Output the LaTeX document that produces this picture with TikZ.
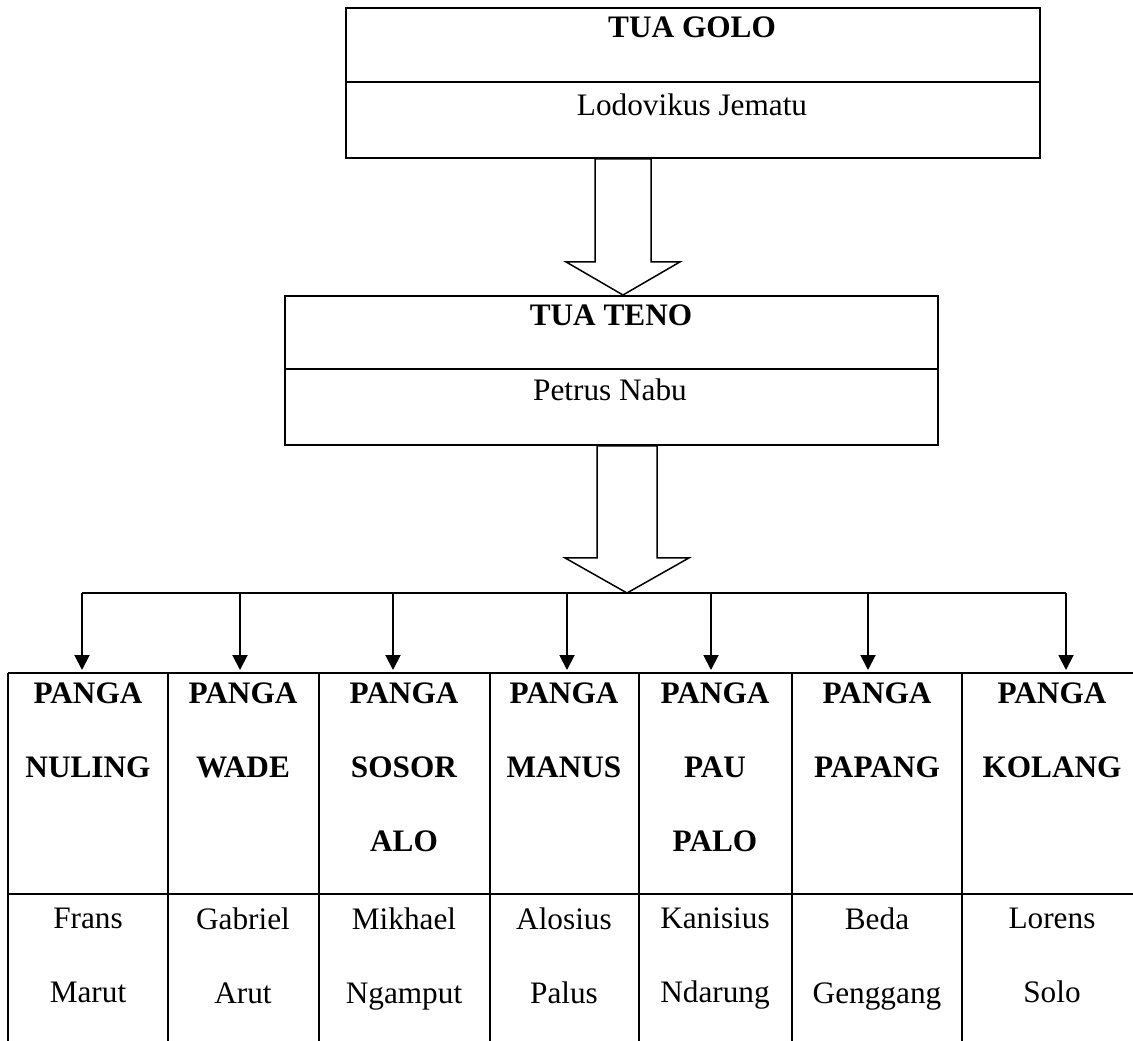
\documentclass[tikz,border=0pt]{standalone}
\usepackage{fontspec}
\setmainfont{Liberation Serif}
\usetikzlibrary{arrows.meta,calc,positioning}
\tikzset{
  >={Triangle[width=0.3cm,length=0.3cm]},
  every picture/.style={line width=1.1pt},
  box/.style={draw, rectangle, inner sep=0pt, anchor=north west},
  txt/.style={inner sep=0pt, align=center, font=\fontsize{17.8}{42}\selectfont},
  head/.style={txt, font=\fontsize{17.8}{42}\selectfont\bfseries},
  hollow/.style={line width=0.85pt, line join=miter, fill=white},
  feed/.style={->, line width=1.1pt}
}
\begin{document}
\begin{tikzpicture}[x=0.02cm, y=-0.02cm]
  \useasboundingbox (0,0) rectangle (1133,1041);

  \node[box, minimum width=13.88cm, minimum height=3cm] (goloBox) at (345,7) {};
  \draw (goloBox.west |- 0,82) -- (goloBox.east |- 0,82);
  \node[head, anchor=base] (golo) at (692,37) {TUA GOLO};
  \node[txt, anchor=base] (lodovikus) at (692,115) {Lodovikus Jematu};

  \node[box, minimum width=13.06cm, minimum height=2.98cm] (tenoBox) at (284,295) {};
  \draw (tenoBox.west |- 0,369) -- (tenoBox.east |- 0,369);
  \node[head, anchor=base] (teno) at (611,325) {TUA TENO};
  \node[txt, anchor=base] (petrus) at (610,400) {Petrus Nabu};

  \coordinate (a1) at (goloBox.south -| 623,0);
  \coordinate (a1tip) at (tenoBox.north -| a1);
  \draw[hollow] ($(a1)+(-28,0)$) -- ($(a1)+(28,0)$) -- ($(a1)+(28,103)$)
    -- ($(a1)+(57,103)$) -- (a1tip) -- ($(a1)+(-57,103)$) -- ($(a1)+(-28,103)$) -- cycle;

  \coordinate (a2) at (tenoBox.south -| 627,0);
  \coordinate (bus) at (627,593);
  \draw[hollow] ($(a2)+(-30,0)$) -- ($(a2)+(30,0)$) -- ($(a2)+(30,112)$)
    -- ($(a2)+(62,112)$) -- (bus) -- ($(a2)+(-62,112)$) -- ($(a2)+(-30,112)$) -- cycle;

  \draw (8,673) -- (1133,673);
  \draw (8,894) -- (1133,894);
  \foreach \vx in {8,168,319,490,639,792,962}
    \draw (\vx,673) -- (\vx,1041);

  \foreach \ax/\cx/\panga/\tua [count=\i] in {
      82/88/{PANGA\\NULING}/{Frans\\Marut},
      240/243/{PANGA\\WADE}/{Gabriel\\Arut},
      393/404/{PANGA\\SOSOR\\ALO}/{Mikhael\\Ngamput},
      567/564/{PANGA\\MANUS}/{Alosius\\Palus},
      711/715/{PANGA\\PAU\\PALO}/{Kanisius\\Ndarung},
      868/877/{PANGA\\PAPANG}/{Beda\\Genggang},
      1066/1052/{PANGA\\KOLANG}/{Lorens\\Solo}} {
    \coordinate (in\i) at (\ax,670);
    \node[head, anchor=north] (panga\i) at (\cx,682) {\panga};
    \node[txt, anchor=north] (tua\i) at (\cx,907) {\tua};
    \draw[feed] (bus -| in\i) -- (in\i);
  }
  \draw (bus -| in1) -- (bus -| in7);
\end{tikzpicture}
\end{document}
